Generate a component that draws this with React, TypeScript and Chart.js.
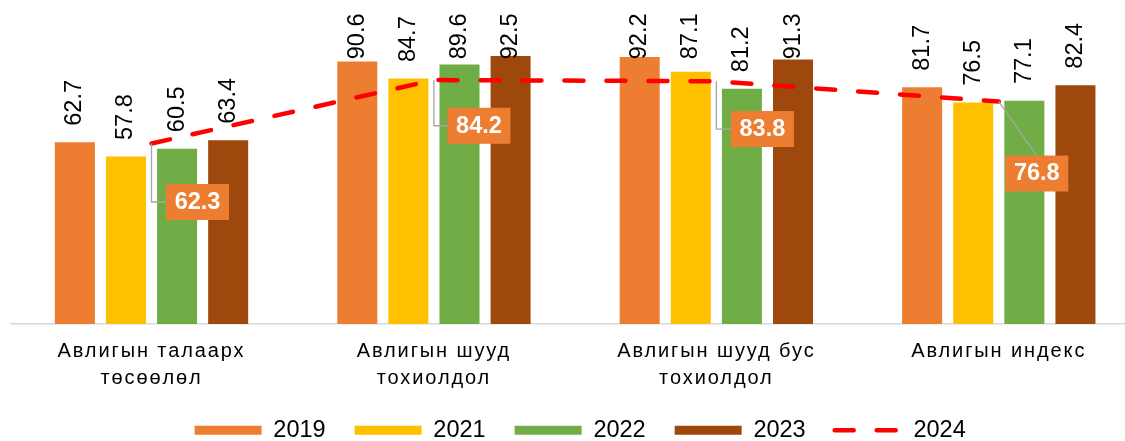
import React, { useEffect, useRef } from 'react';
import { Chart, registerables } from 'chart.js';

Chart.register(...registerables);

const categories: (string | string[])[] = [
  ['Авлигын талаарх', 'төсөөлөл'],
  ['Авлигын шууд', 'тохиолдол'],
  ['Авлигын шууд бус', 'тохиолдол'],
  'Авлигын индекс',
];
const seriesNames = ['2019', '2021', '2022', '2023', '2024'];
const values2019 = [62.7, 90.6, 92.2, 81.7];
const values2021 = [57.8, 84.7, 87.1, 76.5];
const values2022 = [60.5, 89.6, 81.2, 77.1];
const values2023 = [63.4, 92.5, 91.3, 82.4];
const values2024 = [62.3, 84.2, 83.8, 76.8];

const FONT = '"Liberation Sans", Arial, Helvetica, sans-serif';

const barLabelPlugin = {
  id: 'barLabels',
  afterDatasetDraw(chart: any, args: any) {
    const ds = chart.data.datasets[args.index];
    if (ds.type === 'line') return;
    const ctx = chart.ctx;
    ctx.save();
    ctx.font = `23.5px ${FONT}`;
    ctx.fillStyle = '#000';
    ctx.textAlign = 'left';
    ctx.textBaseline = 'middle';
    args.meta.data.forEach((bar: any, i: number) => {
      const text = Number(ds.data[i]).toFixed(1);
      const w = ctx.measureText(text).width;
      const start = Math.max(bar.y - 16.6, 13.5 + w);
      ctx.save();
      ctx.translate(bar.x, start);
      ctx.rotate(-Math.PI / 2);
      ctx.fillText(text, 0, 0);
      ctx.restore();
    });
    ctx.restore();
  },
};

const calloutPlugin = {
  id: 'callouts',
  afterDatasetsDraw(chart: any, _args: any, opts: any) {
    const idx = chart.data.datasets.findIndex((d: any) => d.type === 'line');
    if (idx < 0) return;
    const ds = chart.data.datasets[idx];
    const meta = chart.getDatasetMeta(idx);
    const ctx = chart.ctx;
    ctx.save();
    meta.data.forEach((pt: any, i: number) => {
      const [dx, dy] = opts.offsets[i];
      const cx = pt.x + dx;
      const cy = pt.y + dy;
      const bw = opts.boxWidth;
      const bh = opts.boxHeight;
      const left = cx - bw / 2;
      const top = cy - bh / 2;
      ctx.strokeStyle = '#A6A6A6';
      ctx.lineWidth = 1.3;
      ctx.setLineDash([]);
      ctx.beginPath();
      if (opts.leaders[i] === 'elbow') {
        ctx.moveTo(pt.x, pt.y);
        ctx.lineTo(pt.x, cy);
        ctx.lineTo(left, cy);
      } else {
        ctx.moveTo(pt.x, pt.y);
        ctx.lineTo(cx, top);
      }
      ctx.stroke();
      ctx.fillStyle = '#ED7D31';
      ctx.fillRect(left, top, bw, bh);
      ctx.fillStyle = '#FFFFFF';
      ctx.font = `bold 23.5px ${FONT}`;
      ctx.textAlign = 'center';
      ctx.textBaseline = 'middle';
      ctx.fillText(Number(ds.data[i]).toFixed(1), cx, cy + 0.5);
    });
    ctx.restore();
  },
};

// shifts the legend a little and widens the category tick lettering
const layoutTweakPlugin = {
  id: 'layoutTweak',
  afterLayout(chart: any, _args: any, opts: any) {
    if (chart.legend) {
      chart.legend.left += opts.legendDx;
      chart.legend.right += opts.legendDx;
    }
    const sx = chart.scales.x;
    if (sx && !sx.__spaced) {
      const orig = sx.drawLabels;
      sx.drawLabels = function (area: any) {
        const c = this.ctx;
        c.save();
        (c as any).letterSpacing = opts.tickLetterSpacing;
        orig.call(this, area);
        c.restore();
      };
      sx.__spaced = true;
    }
  },
};

export default function App() {
  const canvasRef = useRef<HTMLCanvasElement | null>(null);

  useEffect(() => {
    if (!canvasRef.current) return;
    const barColors = ['#ED7D31', '#FFC000', '#70AD47', '#9E480E'];
    const barValues = [values2019, values2021, values2022, values2023];
    const datasets: any[] = barValues.map((vals, i) => ({
      type: 'bar',
      label: seriesNames[i],
      data: vals,
      backgroundColor: barColors[i],
      borderWidth: 0,
      categoryPercentage: 0.7238,
      barPercentage: 0.783,
      order: 1,
    }));
    datasets.push({
      type: 'line',
      label: seriesNames[4],
      data: values2024,
      borderColor: '#FF0000',
      backgroundColor: '#FF0000',
      borderWidth: 4.5,
      borderDash: [19, 23],
      borderCapStyle: 'round',
      pointRadius: 0,
      pointHoverRadius: 0,
      tension: 0,
      fill: false,
      order: 0,
    });

    const chart = new Chart(canvasRef.current, {
      type: 'bar',
      data: { labels: categories as any, datasets },
      plugins: [barLabelPlugin, calloutPlugin, layoutTweakPlugin],
      options: {
        animation: false,
        responsive: true,
        maintainAspectRatio: false,
        devicePixelRatio: 1,
        layout: { padding: { top: 34.3, left: 10.3, right: 2, bottom: 0 } },
        scales: {
          x: {
            grid: { display: false, drawTicks: false },
            border: { display: true, color: '#D9D9D9', width: 1.5 },
            ticks: {
              color: '#000',
              font: { size: 20, family: FONT, lineHeight: 1.37 },
              padding: 13.7,
              autoSkip: false,
              maxRotation: 0,
              minRotation: 0,
            },
            afterFit: (scale: any) => {
              scale.height = 65.5;
            },
          },
          y: {
            display: false,
            min: 0,
            max: 100,
          },
        },
        plugins: {
          tooltip: { enabled: false },
          layoutTweak: { legendDx: 5, tickLetterSpacing: '1.9px' },
          callouts: {
            boxWidth: 63,
            boxHeight: 36,
            offsets: [
              [46, 58.5],
              [45, 45.7],
              [46, 47.8],
              [38, 72],
            ],
            leaders: ['elbow', 'elbow', 'elbow', 'straight'],
          },
          legend: {
            position: 'bottom',
            labels: {
              usePointStyle: true,
              pointStyleWidth: 67,
              boxHeight: 9,
              padding: 29,
              color: '#000',
              font: { size: 23.5, family: FONT },
              generateLabels: (c: any) =>
                c.data.datasets.map((ds: any, i: number) => {
                  const isLine = ds.type === 'line';
                  return {
                    text: ds.label,
                    datasetIndex: i,
                    hidden: false,
                    fontColor: '#000',
                    fillStyle: isLine ? 'rgba(0,0,0,0)' : ds.backgroundColor,
                    strokeStyle: isLine ? ds.borderColor : ds.backgroundColor,
                    lineWidth: isLine ? 4.5 : 0,
                    lineDash: isLine ? ds.borderDash : [],
                    lineCap: isLine ? 'round' : 'butt',
                    pointStyle: isLine ? 'line' : 'rect',
                  };
                }),
            },
          },
        },
      } as any,
    });
    return () => chart.destroy();
  }, []);

  return (
    <div
      style={{
        position: 'fixed',
        left: 0,
        top: 0,
        width: 1125,
        height: 441,
        overflow: 'hidden',
        background: '#fff',
      }}
    >
      <div style={{ position: 'relative', width: 1142, height: 452 }}>
        <canvas ref={canvasRef} />
      </div>
    </div>
  );
}
